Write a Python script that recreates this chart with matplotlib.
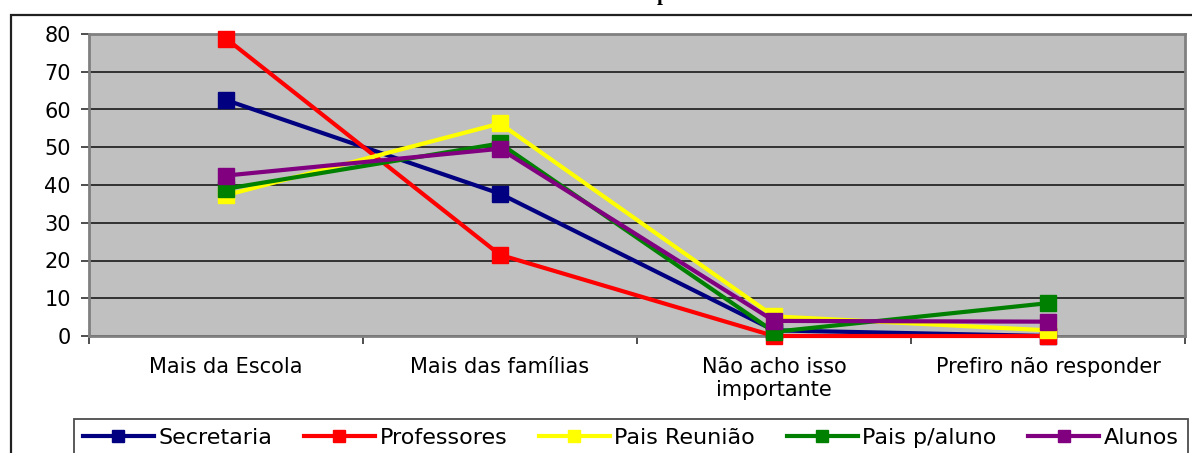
import matplotlib.pyplot as plt
import matplotlib.patches as mpatches
import numpy as np

plt.rcParams["font.family"] = ["DejaVu Sans"]

CATEGORIES = ["Mais da Escola", "Mais das famílias", "Não acho isso\nimportante", "Prefiro não responder"]

SECRETARIA   = [62.5, 37.7, 1.5, 0.0]
PROFESSORES  = [78.8, 21.5, 0.0, 0.0]
PAIS_REUNIAO = [37.3, 56.3, 5.2, 1.5]
PAIS_ALUNO   = [39.0, 51.0, 1.1, 8.7]
ALUNOS       = [42.5, 49.6, 4.0, 3.8]

SERIES = [
    ("Secretaria", SECRETARIA, "#000080"),
    ("Professores", PROFESSORES, "#FF0000"),
    ("Pais Reunião", PAIS_REUNIAO, "#FFFF00"),
    ("Pais p/aluno", PAIS_ALUNO, "#008000"),
    ("Alunos", ALUNOS, "#800080"),
]

W, H = 1192, 453
fig = plt.figure(figsize=(W / 100, H / 100), dpi=100)

# outer chart frame (partly cut off by the image edges)
fig.patches.append(mpatches.Rectangle(
    (11 / W, -0.2), 1.2, 1.2 - 15 / H,
    transform=fig.transFigure, fill=False, edgecolor="#202020", linewidth=1.6))

# title is cropped, only a descender peeks in
fig.text(663 / W, 1.0, "p", ha="center", va="baseline",
         family="Liberation Serif", fontweight="bold", fontsize=15)

ax = fig.add_axes([89 / W, 1 - 336 / H, (1185 - 89) / W, (336 - 34) / H])
ax.set_facecolor("#C0C0C0")

x = np.arange(len(CATEGORIES))
for name, vals, color in SERIES:
    ax.plot(x, vals, color=color, linewidth=3, marker="s", markersize=11.5,
            markeredgecolor=color, label=name, clip_on=False, zorder=3)

ax.set_xlim(-0.5, len(CATEGORIES) - 0.5)
ax.set_ylim(0, 80)
ax.set_yticks(np.arange(0, 81, 10))
ax.yaxis.grid(True, color="#1a1a1a", linewidth=1.2)
ax.set_axisbelow(True)

ax.set_xticks(x)
ax.set_xticklabels(CATEGORIES, fontsize=15, linespacing=1.2)
ax.set_xticks(np.arange(-0.5, len(CATEGORIES), 1), minor=True)
ax.tick_params(axis="x", which="major", length=0, pad=15)
ax.tick_params(axis="x", which="minor", length=6, width=1.2, color="#303030")
ax.tick_params(axis="y", length=6, width=1.2, color="#303030", labelsize=15, pad=7)

for s in ax.spines.values():
    s.set_color("#808080")
    s.set_linewidth(2)

leg = fig.legend(loc="upper left", bbox_to_anchor=(74 / W, 1 - 419 / H),
                 ncol=5, fontsize=16, frameon=True, fancybox=False,
                 edgecolor="#202020", handlelength=3.2, handletextpad=0.2,
                 columnspacing=1.42, borderpad=0.4, borderaxespad=0,
                 markerscale=0.75)
leg.get_frame().set_linewidth(1.3)

fig.savefig("out.png", dpi=100)
